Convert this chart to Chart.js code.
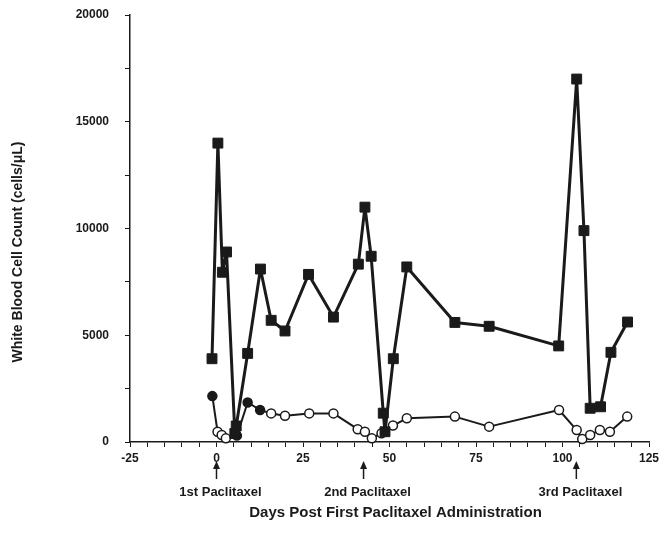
<!DOCTYPE html>
<html>
<head>
<meta charset="utf-8">
<script src="https://cdn.jsdelivr.net/npm/chart.js@4.4.0/dist/chart.umd.min.js"></script>
<style>
  body { margin: 0; background: #fff; }
  #wrap { width: 663px; height: 551px; }
</style>
</head>
<body>
<div id="wrap"><canvas id="wbc-chart" width="663" height="551"></canvas></div>
<script>
// total WBC (filled squares)
var wbcDays = [-1.3, 0.4, 1.7, 2.9, 5.3, 5.7, 9.0, 12.7, 15.8, 19.8, 26.6, 33.8, 41.0, 42.9, 44.7, 48.2, 48.7, 51.1, 55.0, 68.9, 78.8, 98.9, 104.1, 106.2, 108.0, 111.0, 114.0, 118.8];
var wbcCounts = [3900, 14000, 7950, 8900, 400, 750, 4150, 8100, 5700, 5200, 7850, 5850, 8330, 11000, 8700, 1350, 480, 3900, 8200, 5600, 5420, 4500, 17000, 9900, 1580, 1650, 4200, 5620];

// lower series (circles), filled flag per point
var lowDays = [-1.2, 0.3, 1.5, 2.7, 5.9, 9.0, 12.6, 15.8, 19.8, 26.8, 33.8, 40.8, 42.9, 44.9, 47.7, 51.0, 55.0, 68.9, 78.8, 99.0, 104.1, 105.7, 108.0, 110.8, 113.7, 118.7];
var lowCounts = [2150, 480, 330, 170, 300, 1850, 1500, 1340, 1230, 1340, 1340, 600, 480, 170, 410, 770, 1110, 1190, 720, 1500, 560, 140, 330, 560, 480, 1190];
var lowFilled = [1, 0, 0, 0, 1, 1, 1, 0, 0, 0, 0, 0, 0, 0, 0, 0, 0, 0, 0, 0, 0, 0, 0, 0, 0, 0];

// paclitaxel doses
var doseDays = [0, 42.5, 104];
var doseLabels = ['1st Paclitaxel', '2nd Paclitaxel', '3rd Paclitaxel'];

var xTitle = 'Days Post First Paclitaxel Administration';
var yTitle = 'White Blood Cell Count (cells/\u03bcL)';

var ink = '#1a1a1a';
var fontFam = '"Liberation Sans", Arial, sans-serif';

function toPoints(xs, ys) {
    var pts = [];
    for (var i = 0; i < xs.length; i++) {
        pts.push({x: xs[i], y: ys[i]});
    }
    return pts;
}

var annotations = {
    id: 'annotations',
    afterDraw: function(chart) {
        var ctx = chart.ctx;
        var xs = chart.scales.x;
        ctx.save();
        ctx.fillStyle = ink;
        ctx.strokeStyle = ink;

        // dose arrows + labels
        ctx.font = 'bold 13px ' + fontFam;
        ctx.textAlign = 'center';
        ctx.textBaseline = 'middle';
        ctx.lineWidth = 1.5;
        doseDays.forEach(function(d, i) {
            var px = xs.getPixelForValue(d);
            ctx.beginPath();
            ctx.moveTo(px, 466);
            ctx.lineTo(px, 479);
            ctx.stroke();
            ctx.beginPath();
            ctx.moveTo(px, 461);
            ctx.lineTo(px - 3.5, 469);
            ctx.lineTo(px + 3.5, 469);
            ctx.closePath();
            ctx.fill();
            ctx.fillText(doseLabels[i], px + 4, 492);
        });

        // x title
        ctx.font = 'bold 15px ' + fontFam;
        ctx.fillText(xTitle, (chart.chartArea.left + chart.chartArea.right) / 2 + 6, 513);

        // y title
        ctx.font = 'bold 14px ' + fontFam;
        ctx.translate(18, 252);
        ctx.rotate(-Math.PI / 2);
        ctx.fillText(yTitle, 0, 0);
        ctx.restore();
    }
};

new Chart(document.getElementById('wbc-chart'), {
    type: 'line',
    data: {
        datasets: [
            {
                label: 'WBC',
                data: toPoints(wbcDays, wbcCounts),
                borderColor: ink,
                borderWidth: 3,
                borderJoinStyle: 'round',
                pointStyle: 'rect',
                pointRadius: 7,
                pointBackgroundColor: ink,
                pointBorderColor: ink,
                pointBorderWidth: 1,
                tension: 0,
                order: 1
            },
            {
                label: 'Low',
                data: toPoints(lowDays, lowCounts),
                borderColor: ink,
                borderWidth: 2,
                borderJoinStyle: 'round',
                pointStyle: 'circle',
                pointRadius: 4.5,
                pointBackgroundColor: lowFilled.map(function(f) { return f ? ink : '#fff'; }),
                pointBorderColor: ink,
                pointBorderWidth: 1.5,
                tension: 0,
                order: 2
            }
        ]
    },
    options: {
        responsive: false,
        animation: false,
        clip: false,
        layout: { padding: { left: 0, top: 15, right: 14, bottom: 0 } },
        plugins: {
            legend: { display: false },
            tooltip: { enabled: false }
        },
        scales: {
            x: {
                type: 'linear',
                min: -25,
                max: 125,
                afterFit: function(s) { s.height = 109; s.paddingLeft = 0; s.paddingRight = 0; },
                ticks: {
                    stepSize: 5,
                    autoSkip: false,
                    maxRotation: 0,
                    padding: 4,
                    color: ink,
                    font: { family: fontFam, size: 12, weight: 'bold' },
                    callback: function(v) { return v % 25 === 0 ? String(v) : ''; }
                },
                grid: {
                    drawOnChartArea: false,
                    drawTicks: true,
                    tickLength: 5,
                    tickColor: ink,
                    tickWidth: 1
                },
                border: { display: true, color: ink, width: 1.5 }
            },
            y: {
                type: 'linear',
                min: 0,
                max: 20000,
                afterFit: function(s) { s.width = 130; s.paddingTop = 0; s.paddingBottom = 0; },
                ticks: {
                    stepSize: 2500,
                    padding: 16,
                    color: ink,
                    font: { family: fontFam, size: 12, weight: 'bold' },
                    callback: function(v) { return v % 5000 === 0 ? String(v) : ''; }
                },
                grid: {
                    drawOnChartArea: false,
                    drawTicks: true,
                    tickLength: 5,
                    tickColor: ink,
                    tickWidth: 1
                },
                border: { display: true, color: ink, width: 1.5 }
            }
        }
    },
    plugins: [annotations]
});
</script>
</body>
</html>
